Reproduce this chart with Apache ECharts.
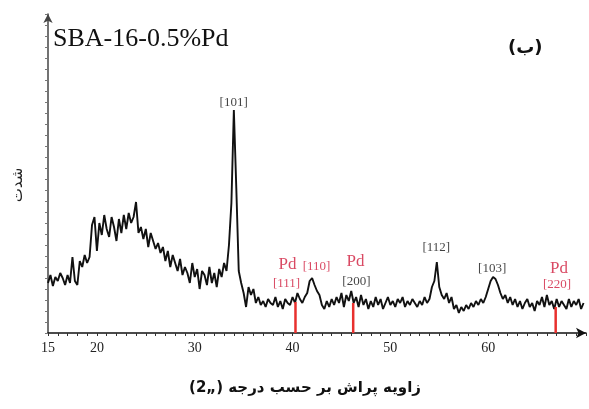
<!DOCTYPE html>
<html>
<head>
<meta charset="utf-8">
<script src="https://cdn.jsdelivr.net/npm/echarts@6/dist/echarts.min.js"></script>
<style>
html,body{margin:0;padding:0;background:#fff;}
#chart{width:589px;height:409px;}
</style>
</head>
<body>
<div id="chart"></div>
<script>
// 2θ positions (degrees)
const angles = [
15,15.25,15.5,15.75, 16,16.25,16.5,16.75, 17,17.25,17.5,17.75, 18,18.25,18.5,18.75, 19,19.25,19.5,19.75,
20,20.25,20.5,20.75, 21,21.25,21.5,21.75, 22,22.25,22.5,22.75, 23,23.25,23.5,23.75, 24,24.25,24.5,24.75,
25,25.25,25.5,25.75, 26,26.25,26.5,26.75, 27,27.25,27.5,27.75, 28,28.25,28.5,28.75, 29,29.25,29.5,29.75,
30,30.25,30.5,30.75, 31,31.25,31.5,31.75, 32,32.25,32.5,32.75, 33,33.25,33.5,33.75, 34,34.25,34.5,34.75,
35,35.25,35.5,35.75, 36,36.25,36.5,36.75, 37,37.25,37.5,37.75, 38,38.25,38.5,38.75, 39,39.25,39.5,39.75,
40,40.25,40.5,40.75, 41,41.25,41.5,41.75, 42,42.25,42.5,42.75, 43,43.25,43.5,43.75, 44,44.25,44.5,44.75,
45,45.25,45.5,45.75, 46,46.25,46.5,46.75, 47,47.25,47.5,47.75, 48,48.25,48.5,48.75, 49,49.25,49.5,49.75,
50,50.25,50.5,50.75, 51,51.25,51.5,51.75, 52,52.25,52.5,52.75, 53,53.25,53.5,53.75, 54,54.25,54.5,54.75,
55,55.25,55.5,55.75, 56,56.25,56.5,56.75, 57,57.25,57.5,57.75, 58,58.25,58.5,58.75, 59,59.25,59.5,59.75,
60,60.25,60.5,60.75, 61,61.25,61.5,61.75, 62,62.25,62.5,62.75, 63,63.25,63.5,63.75, 64,64.25,64.5,64.75,
65,65.25,65.5,65.75, 66,66.25,66.5,66.75, 67,67.25,67.5,67.75, 68,68.25,68.5,68.75, 69,69.25,69.5,69.75
];
// intensity (arbitrary units)
const intensity = [
50,58,47,56, 52,60,55,48, 58,50,76,52, 48,72,66,78, 70,76,108,116,
82,110,98,118, 104,96,116,106, 92,114,100,118, 104,120,110,116, 131,100,106,94,
104,86,100,92, 84,90,80,86, 72,82,66,78, 70,62,74,58, 66,60,50,70,
56,64,44,62, 58,48,66,50, 60,46,64,56, 70,62,88,130, 223,145,62,50,
40,26,46,38, 44,30,36,28, 32,26,34,30, 28,36,26,32, 24,34,30,28,
36,30,40,34, 30,36,40,52, 55,48,42,38, 28,24,32,26, 34,28,36,30,
40,26,38,32, 42,30,36,26, 38,28,34,24, 32,26,36,28, 34,24,30,36,
28,32,26,34, 30,36,26,32, 28,34,30,26, 32,28,36,30, 34,46,52,71,
46,38,34,40, 30,36,24,28, 20,26,22,28, 24,30,26,32, 28,34,30,36,
44,52,56,54, 48,40,34,38, 30,36,28,34, 26,32,24,30, 34,26,30,22,
32,28,36,26, 38,28,32,24, 34,26,32,28, 24,34,26,32, 28,34,24,30
];
// x tick labels shown
const xTickLabels = [15, 20, 30, 40, 50, 60];
// Pd reference markers
const pdAngles = [40.3, 46.2, 66.9];
const pdHeights = [31, 30, 26];
// peak annotations
const annoText = ['[101]', 'Pd', '[111]', '[110]', 'Pd', '[200]', '[112]', '[103]', 'Pd', '[220]'];
const annoX = [33.98, 39.49, 39.39, 42.45, 46.43, 46.53, 54.69, 60.41, 67.24, 67.04];
const annoY = [230, 68, 49, 66, 71, 51, 85, 64, 64, 48];
const annoKind = ['b', 'pd', 'r', 'r', 'pd', 'b', 'b', 'b', 'pd', 'r'];

const RED = '#d01c3c';
const chart = echarts.init(document.getElementById('chart'), null, {renderer: 'canvas'});

const series = [{
  type: 'line',
  data: angles.map((a, i) => [a, intensity[i]]),
  showSymbol: false,
  symbol: 'none',
  lineStyle: {color: '#111', width: 1.9},
  z: 2,
  silent: true
}];
pdAngles.forEach((a, i) => {
  series.push({
    type: 'line',
    data: [[a, 0], [a, pdHeights[i]]],
    symbol: 'none',
    lineStyle: {color: '#e8302e', width: 2.5},
    z: 3,
    silent: true
  });
});
series.push({
  type: 'scatter',
  symbolSize: 0,
  z: 4,
  silent: true,
  data: annoText.map((t, i) => ({
    value: [annoX[i], annoY[i]],
    label: {
      show: true,
      position: 'inside',
      formatter: t,
      fontFamily: 'Liberation Serif',
      fontSize: annoKind[i] === 'pd' ? 17 : 13,
      color: annoKind[i] === 'b' ? '#111' : RED
    }
  }))
});

chart.setOption({
  animation: false,
  backgroundColor: '#fff',
  grid: {left: 48, right: 2, top: 14, bottom: 76, containLabel: false},
  xAxis: {
    type: 'value',
    min: 15, max: 70, interval: 1,
    axisLine: {onZero: false, lineStyle: {color: '#111', width: 1.5}, symbol: ['none', 'arrow'], symbolSize: [8, 10]},
    axisTick: {show: true, length: 3, lineStyle: {color: '#333', width: 1}},
    axisLabel: {
      margin: 8,
      fontFamily: 'Liberation Serif', fontSize: 14, color: '#222',
      formatter: v => xTickLabels.includes(v) ? String(v) : ''
    },
    splitLine: {show: false}
  },
  yAxis: {
    type: 'value',
    min: 0, max: 319, interval: 11,
    axisLine: {show: true, lineStyle: {color: '#444', width: 1.5}, symbol: ['none', 'arrow'], symbolSize: [7, 9]},
    axisTick: {show: true, length: 3, lineStyle: {color: '#777', width: 1}},
    axisLabel: {show: false},
    splitLine: {show: false}
  },
  series: series,
  graphic: [
    {type: 'text', left: 53, top: 26, style: {text: 'SBA-16-0.5%Pd', font: '26px "Liberation Serif"', fill: '#111'}},
    {type: 'text', left: 508, top: 39, style: {text: '(ب)', font: 'bold 18px "DejaVu Sans"', fill: '#111'}},
    {type: 'text', x: 18, y: 185, rotation: Math.PI / 2, style: {text: 'شدت', font: '15px "DejaVu Sans"', fill: '#222', align: 'center', verticalAlign: 'middle'}},
    {type: 'text', x: 305, y: 388, style: {text: '(2„) زاویه پراش بر حسب درجه', font: 'bold 15px "DejaVu Sans"', fill: '#111', align: 'center', verticalAlign: 'middle'}}
  ]
});
</script>
</body>
</html>
